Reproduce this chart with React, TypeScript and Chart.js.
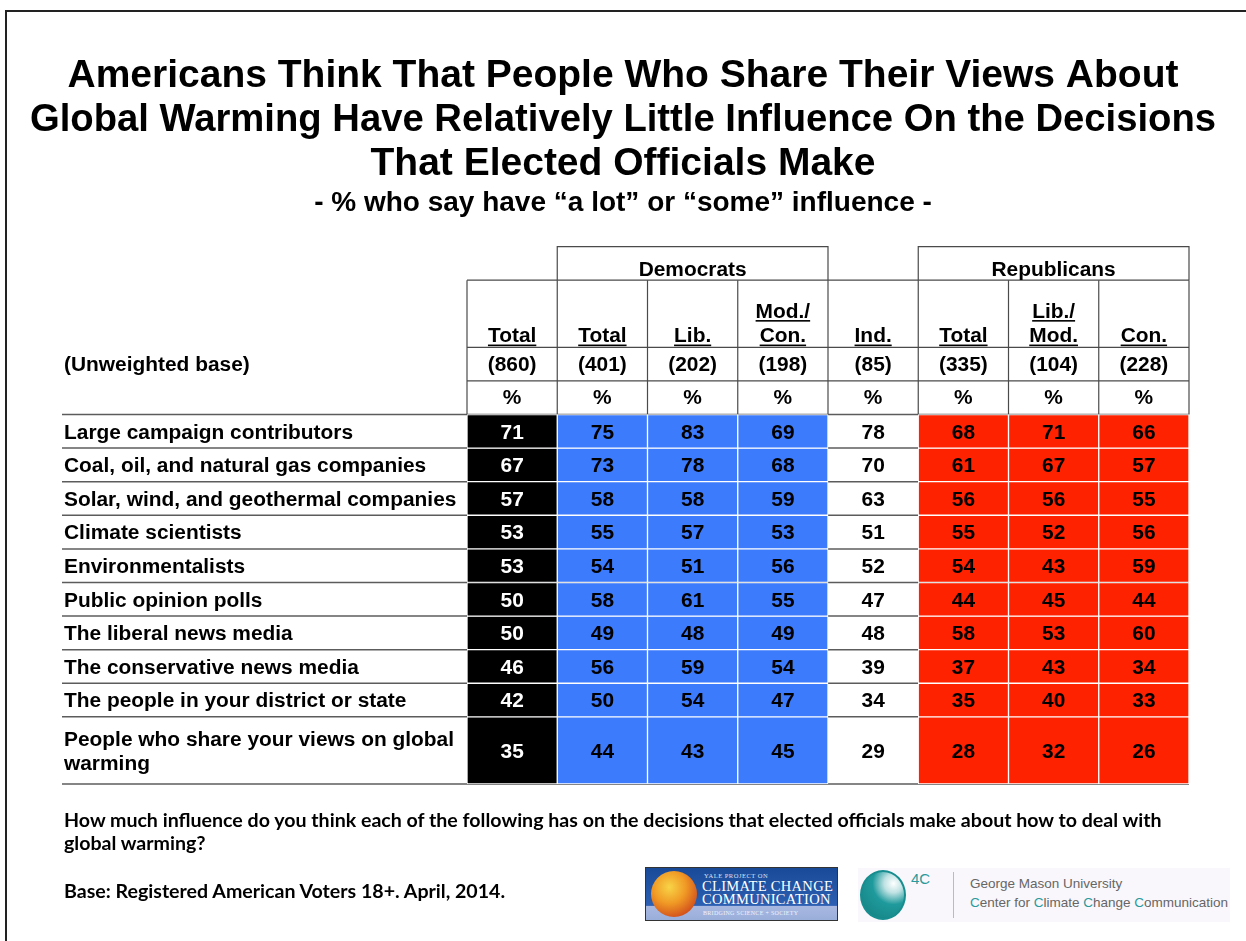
import React, { useEffect, useRef } from 'react';
import { Chart, registerables } from 'chart.js';

Chart.register(...registerables);

const FONT = '"Liberation Sans", Arial, Helvetica, sans-serif';

// ---------- data ----------
const titleLines = [
  'Americans Think That People Who Share Their Views About',
  'Global Warming Have Relatively Little Influence On the Decisions',
  'That Elected Officials Make',
];
const subtitleText = '- % who say have \u201Ca lot\u201D or \u201Csome\u201D influence -';

const rowLabels: (string | string[])[] = [
  'Large campaign contributors',
  'Coal, oil, and natural gas companies',
  'Solar, wind, and geothermal companies',
  'Climate scientists',
  'Environmentalists',
  'Public opinion polls',
  'The liberal news media',
  'The conservative news media',
  'The people in your district or state',
  ['People who share your views on global', 'warming'],
];
const baseRowLabel = '(Unweighted base)';

const columnKeys = ['Total', 'Dem Total', 'Dem Lib.', 'Dem Mod./Con.', 'Ind.', 'Rep Total', 'Rep Lib./Mod.', 'Rep Con.'];
const columnHeaders = [['Total'], ['Total'], ['Lib.'], ['Mod./', 'Con.'], ['Ind.'], ['Total'], ['Lib./', 'Mod.'], ['Con.']];
const unweightedBase = ['(860)', '(401)', '(202)', '(198)', '(85)', '(335)', '(104)', '(228)'];
const groupHeaders = [
  { label: 'Democrats', from: 1, to: 3 },
  { label: 'Republicans', from: 5, to: 7 },
];

const totalAll = [71, 67, 57, 53, 53, 50, 50, 46, 42, 35];
const demTotal = [75, 73, 58, 55, 54, 58, 49, 56, 50, 44];
const demLib = [83, 78, 58, 57, 51, 61, 48, 59, 54, 43];
const demModCon = [69, 68, 59, 53, 56, 55, 49, 54, 47, 45];
const independents = [78, 70, 63, 51, 52, 47, 48, 39, 34, 29];
const repTotal = [68, 61, 56, 55, 54, 44, 58, 37, 35, 28];
const repLibMod = [71, 67, 56, 52, 43, 45, 53, 43, 40, 32];
const repCon = [66, 57, 55, 56, 59, 44, 60, 34, 33, 26];

const columnValues = [totalAll, demTotal, demLib, demModCon, independents, repTotal, repLibMod, repCon];

// ---------- styling ----------
const BLACK = '#000000';
const BLUE = '#3d7bfd';
const RED = '#fe2200';
const columnFill = [BLACK, BLUE, BLUE, BLUE, 'rgba(255,255,255,0)', RED, RED, RED];
const columnBorder = [1, 1, 1, 1, 0, 1, 1, 1];
const columnText = ['#ffffff', '#000', '#000', '#000', '#000', '#000', '#000', '#000'];

// row geometry in value units of the y scale (header occupies -5..0)
const rowSpan = [1, 1, 1, 1, 1, 1, 1, 1, 1, 2];
const rowStart: number[] = [];
rowSpan.reduce((acc, s, i) => { rowStart[i] = acc; return acc + s; }, 0);
const tableEnd = rowStart[rowStart.length - 1] + rowSpan[rowSpan.length - 1];
const yTickValues = [-1.5, ...rowStart.map((s, i) => s + rowSpan[i] / 2)];
const yTickLabels = [baseRowLabel, ...rowLabels];

const CELL_SIZE = 20.9;
const CELL_FONT = `bold ${CELL_SIZE}px ${FONT}`;

function underlined(ctx: CanvasRenderingContext2D, text: string, cx: number, baseline: number) {
  ctx.textAlign = 'center';
  ctx.textBaseline = 'alphabetic';
  ctx.fillText(text, cx, baseline);
  const w = ctx.measureText(text).width;
  ctx.fillRect(cx - w / 2, baseline + 2.2, w, 1.6);
}

const tablePlugin = {
  id: 'tableDecor',
  beforeDraw(chart: any) {
    const { ctx, width, height } = chart;
    ctx.save();
    ctx.fillStyle = '#fff';
    ctx.fillRect(0, 0, width, height);
    ctx.strokeStyle = '#222';
    ctx.lineWidth = 2;
    ctx.beginPath();
    ctx.moveTo(6, height);
    ctx.lineTo(6, 11);
    ctx.lineTo(width, 11);
    ctx.stroke();
    ctx.restore();
  },
  beforeDatasetsDraw(chart: any) {
    const { ctx } = chart;
    const xs = chart.scales.x;
    const ys = chart.scales.y;
    const colW = xs.getPixelForValue(1) - xs.getPixelForValue(0);
    const left = (c: number) => xs.getPixelForValue(c) - colW / 2;
    const right = (c: number) => xs.getPixelForValue(c) + colW / 2;
    const n = columnKeys.length;
    const Y = (u: number) => ys.getPixelForValue(u);
    const labelLeft = ys.left - 2;
    ctx.save();
    // data row rules
    ctx.strokeStyle = '#5c5c5c';
    ctx.lineWidth = 1.5;
    const bounds = [...rowStart, tableEnd];
    bounds.forEach((u) => {
      ctx.beginPath();
      ctx.moveTo(labelLeft, Y(u));
      ctx.lineTo(right(n - 1), Y(u));
      ctx.stroke();
    });
    // header grid
    ctx.strokeStyle = '#4a4a4a';
    ctx.lineWidth = 1.2;
    [-4, -2, -1].forEach((u) => {
      ctx.beginPath();
      ctx.moveTo(left(0), Y(u));
      ctx.lineTo(right(n - 1), Y(u));
      ctx.stroke();
    });
    for (let c = 0; c <= n; c++) {
      const x = c < n ? left(c) : right(n - 1);
      ctx.beginPath();
      ctx.moveTo(x, Y(-4));
      ctx.lineTo(x, Y(0));
      ctx.stroke();
    }
    groupHeaders.forEach((g) => {
      ctx.beginPath();
      ctx.moveTo(left(g.from), Y(-4));
      ctx.lineTo(left(g.from), Y(-5));
      ctx.lineTo(right(g.to), Y(-5));
      ctx.lineTo(right(g.to), Y(-4));
      ctx.stroke();
    });
    ctx.restore();
  },
  afterDatasetsDraw(chart: any) {
    const { ctx } = chart;
    const xs = chart.scales.x;
    const ys = chart.scales.y;
    const Y = (u: number) => ys.getPixelForValue(u);
    ctx.save();
    ctx.font = CELL_FONT;
    ctx.fillStyle = '#000';
    // group headers
    groupHeaders.forEach((g) => {
      const cx = (xs.getPixelForValue(g.from) + xs.getPixelForValue(g.to)) / 2;
      ctx.textAlign = 'center';
      ctx.textBaseline = 'alphabetic';
      ctx.fillText(g.label, cx, Y(-4) - 4);
    });
    columnKeys.forEach((_, c) => {
      const cx = xs.getPixelForValue(c);
      const lines = columnHeaders[c];
      const baseBottom = Y(-2) - 5;
      lines.forEach((ln, i) => {
        const b = baseBottom - (lines.length - 1 - i) * 24.5;
        underlined(ctx, ln, cx, b);
      });
      ctx.textAlign = 'center';
      ctx.textBaseline = 'middle';
      ctx.fillText(unweightedBase[c], cx, Y(-1.5) + 1);
      ctx.fillText('%', cx, Y(-0.5) + 1);
    });
    // cell values
    columnKeys.forEach((_, c) => {
      rowLabels.forEach((__, r) => {
        const el = chart.getDatasetMeta(r).data[c];
        const p = el.getCenterPoint();
        ctx.fillStyle = columnText[c];
        ctx.textAlign = 'center';
        ctx.textBaseline = 'middle';
        ctx.fillText(String(columnValues[c][r]), p.x, p.y + 1.5);
      });
    });
    ctx.restore();
  },
};

const footStyle: React.CSSProperties = {
  position: 'absolute',
  left: 64,
  fontFamily: 'Lato, "Open Sans", sans-serif',
  fontWeight: 700,
  fontSize: 19.6,
  lineHeight: '23px',
  color: '#000',
  whiteSpace: 'nowrap',
};

// invisible spacer axes (reserve margin so the wide title has room)
const spacerAxis = (position: string, w: number) => ({
  type: 'linear',
  axis: 'y',
  position,
  display: true,
  weight: 5,
  grid: { display: false, drawTicks: false },
  border: { display: false },
  ticks: { display: false },
  afterFit: (s: any) => {
    s.width = w;
  },
});

export default function App() {
  const ref = useRef<HTMLCanvasElement | null>(null);

  useEffect(() => {
    if (!ref.current) return;
    const chart = new Chart(ref.current, {
      type: 'bar',
      data: {
        labels: columnKeys,
        datasets: rowLabels.map((_, r) => ({
          label: typeof rowLabels[r] === 'string' ? (rowLabels[r] as string) : (rowLabels[r] as string[]).join(' '),
          data: columnKeys.map(() => [rowStart[r], rowStart[r] + rowSpan[r]] as [number, number]),
          xAxisID: 'x',
          yAxisID: 'y',
          backgroundColor: columnFill,
          borderColor: '#ffffff',
          borderWidth: columnBorder,
          borderSkipped: false,
          barPercentage: 1,
          categoryPercentage: 1,
        })),
      },
      options: {
        responsive: false,
        animation: false,
        devicePixelRatio: 1,
        events: [],
        layout: { padding: { left: 30, right: 30, top: 0, bottom: 157 } },
        plugins: {
          legend: { display: false },
          tooltip: { enabled: false },
          title: {
            display: true,
            text: titleLines,
            color: '#000',
            font: { family: FONT, size: 39, weight: 'bold', lineHeight: 1.128 },
            padding: { top: 54, bottom: 0 },
          },
          subtitle: {
            display: true,
            text: subtitleText,
            color: '#000',
            font: { family: FONT, size: 28, weight: 'bold', lineHeight: 1.2 },
            padding: { top: 1, bottom: 26 },
          },
        },
        scales: {
          x: { display: false, stacked: true, offset: true, grid: { display: false } },
          y: {
            type: 'linear',
            position: 'left',
            weight: 0,
            min: -5,
            max: 11,
            reverse: true,
            stacked: false,
            grid: { display: false, drawTicks: false },
            border: { display: false },
            afterBuildTicks: (s: any) => {
              s.ticks = yTickValues.map((v) => ({ value: v + 0.045 }));
            },
            afterFit: (s: any) => {
              s.width = 403;
            },
            ticks: {
              autoSkip: false,
              crossAlign: 'far',
              padding: 0,
              color: '#000',
              font: { family: FONT, size: CELL_SIZE, weight: 'bold', lineHeight: 1.16 },
              callback: (_v: any, i: number) => yTickLabels[i] as any,
            },
          },
          padLeft: spacerAxis('left', 34),
          padRight: spacerAxis('right', 27),
        },
      } as any,
      plugins: [tablePlugin],
    });
    return () => chart.destroy();
  }, []);

  return (
    <div style={{ position: 'absolute', left: 0, top: 0, width: 1246, height: 941, background: '#fff', overflow: 'hidden' }}>
      <canvas ref={ref} width={1246} height={941} style={{ position: 'absolute', left: 0, top: 0, width: 1246, height: 941 }} />
      <div style={{ ...footStyle, top: 808 }}>
        How much influence do you think each of the following has on the decisions that elected officials make about how to deal with
        <br />
        global warming?
      </div>
      <div style={{ ...footStyle, top: 879 }}>Base: Registered American Voters 18+. April, 2014.</div>

      {/* Yale logo */}
      <div
        style={{
          position: 'absolute', left: 645, top: 867, width: 193, height: 54, boxSizing: 'border-box',
          border: '1px solid #333', overflow: 'hidden',
          background: 'linear-gradient(#184a98 0%, #2d5fb2 72%, #a8b8e0 73%, #9aaedb 100%)',
        }}
      >
        <div style={{ position: 'absolute', left: 5, top: 3, width: 46, height: 46, borderRadius: '50%', background: 'radial-gradient(circle at 40% 35%, #f8d447 0%, #f09a25 40%, #d4541c 75%, #a32c18 100%)' }} />
        <div style={{ position: 'absolute', left: 58, top: 4, fontFamily: '"Liberation Serif", serif', fontSize: 6.5, color: '#dbe3f4', letterSpacing: 0.5 }}>YALE PROJECT ON</div>
        <div style={{ position: 'absolute', left: 56, top: 12, fontFamily: '"Liberation Serif", serif', fontSize: 14.5, lineHeight: '13px', color: '#fff', letterSpacing: 0.3 }}>
          CLIMATE CHANGE<br />COMMUNICATION
        </div>
        <div style={{ position: 'absolute', left: 57, top: 42, fontFamily: '"Liberation Serif", serif', fontSize: 6, color: '#eef2fb', letterSpacing: 0.3 }}>BRIDGING SCIENCE + SOCIETY</div>
      </div>

      {/* 4C logo */}
      <div style={{ position: 'absolute', left: 858, top: 868, width: 372, height: 54, background: '#f9f7fb' }}>
        <div style={{ position: 'absolute', left: 2, top: 2, width: 46, height: 50, borderRadius: '50%', border: '2px solid #178d8f', boxSizing: 'border-box', background: 'radial-gradient(circle at 75% 25%, #ffffff 0%, #bfe2e3 20%, #1f9a9c 45%, #137e80 100%)' }} />
        <div style={{ position: 'absolute', left: 53, top: 2, fontFamily: FONT, fontSize: 15, color: '#2a9a9c' }}>4C</div>
        <div style={{ position: 'absolute', left: 95, top: 4, width: 1, height: 46, background: '#bbb' }} />
        <div style={{ position: 'absolute', left: 112, top: 8, fontFamily: FONT, fontSize: 13.5, color: '#666' }}>George Mason University</div>
        <div style={{ position: 'absolute', left: 112, top: 27, fontFamily: FONT, fontSize: 13.5, color: '#666' }}>
          <span style={{ color: '#2a9a9c' }}>C</span>enter for <span style={{ color: '#2a9a9c' }}>C</span>limate <span style={{ color: '#2a9a9c' }}>C</span>hange <span style={{ color: '#2a9a9c' }}>C</span>ommunication
        </div>
      </div>
    </div>
  );
}
